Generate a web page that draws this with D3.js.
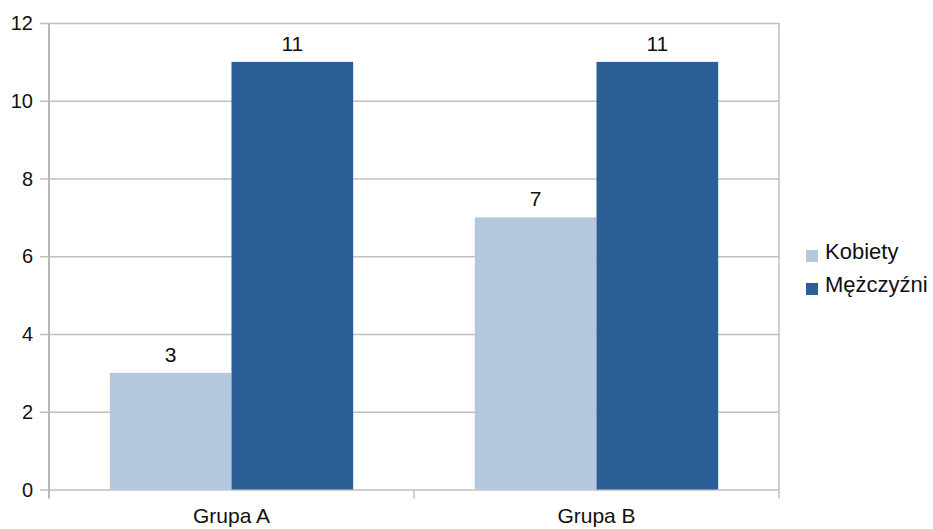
<!DOCTYPE html>
<html>
<head>
<meta charset="utf-8">
<script src="https://cdn.jsdelivr.net/npm/d3@7"></script>
<style>
  html, body { margin: 0; padding: 0; background: #fff; }
  svg { display: block; font-family: "Liberation Sans", Arial, sans-serif; }
</style>
</head>
<body>
<svg id="chart" width="933" height="529"></svg>
<script>
// Chart data
const groups = ["Grupa A", "Grupa B"];
const seriesNames = ["Kobiety", "Mężczyźni"];
const kobiety = [3, 7];
const mezczyzni = [11, 11];
const yTicks = [0, 2, 4, 6, 8, 10, 12];
const seriesColors = ["#b4c7dd", "#2b5f96"];

const seriesValues = [kobiety, mezczyzni];
const rows = groups.map((g, i) => ({
  group: g,
  values: seriesNames.map((s, j) => ({ series: s, idx: j, value: seriesValues[j][i] }))
}));

const svg = d3.select("#chart");
const plot = { left: 49, right: 779, top: 23, bottom: 489.5 };

const y = d3.scaleLinear().domain([0, 12]).range([plot.bottom, plot.top]);
const x0 = d3.scaleBand().domain(groups).range([plot.left, plot.right]).padding(0);
const bw = x0.bandwidth();
const x1 = d3.scaleBand().domain(seriesNames).range([bw / 6, bw * 5 / 6]).padding(0);

const gridColor = "#c0c0c0";
const textColor = "#111";

// Horizontal gridlines with short tick stubs on the left
const grid = svg.append("g")
  .attr("transform", `translate(${plot.left},0)`)
  .call(d3.axisLeft(y).tickValues(yTicks).tickSize(-(plot.right - plot.left)).tickFormat(""));
grid.select(".domain").remove();
grid.selectAll(".tick line").attr("stroke", gridColor).attr("stroke-width", 1.5).attr("x1", -9);

// Bars
const groupG = svg.append("g").selectAll("g")
  .data(rows).join("g")
  .attr("transform", d => `translate(${x0(d.group)},0)`);

groupG.selectAll("rect")
  .data(d => d.values).join("rect")
  .attr("x", d => x1(d.series))
  .attr("y", d => y(d.value))
  .attr("width", x1.bandwidth())
  .attr("height", d => y(0) - y(d.value))
  .attr("fill", d => seriesColors[d.idx]);

// Value labels
groupG.selectAll("text.val")
  .data(d => d.values).join("text")
  .attr("class", "val")
  .attr("x", d => x1(d.series) + x1.bandwidth() / 2)
  .attr("y", d => y(d.value) - 11)
  .attr("text-anchor", "middle")
  .attr("font-size", 21)
  .attr("fill", textColor)
  .text(d => d.value);

// Left axis line
svg.append("line")
  .attr("x1", plot.left).attr("x2", plot.left)
  .attr("y1", plot.top).attr("y2", plot.bottom + 9)
  .attr("stroke", "#b8b8b8").attr("stroke-width", 2);

// Right border line
svg.append("line")
  .attr("x1", plot.right).attr("x2", plot.right)
  .attr("y1", plot.top).attr("y2", plot.bottom + 9)
  .attr("stroke", gridColor).attr("stroke-width", 1.5);

// Category separator ticks below the baseline
const sepX = groups.map(g => x0(g)).concat([plot.right]);
svg.append("g").selectAll("line")
  .data(sepX.slice(1, -1)).join("line")
  .attr("x1", d => d).attr("x2", d => d)
  .attr("y1", plot.bottom).attr("y2", plot.bottom + 9)
  .attr("stroke", gridColor).attr("stroke-width", 1.5);

// Y tick labels
svg.append("g").selectAll("text")
  .data(yTicks).join("text")
  .attr("x", 33)
  .attr("y", d => y(d))
  .attr("dy", "0.35em")
  .attr("text-anchor", "end")
  .attr("font-size", 20)
  .attr("fill", textColor)
  .text(d => d);

// Category labels
svg.append("g").selectAll("text")
  .data(groups).join("text")
  .attr("x", d => x0(d) + bw / 2)
  .attr("y", 523)
  .attr("text-anchor", "middle")
  .attr("font-size", 21)
  .attr("fill", textColor)
  .text(d => d);

// Legend
const legend = svg.append("g").attr("transform", "translate(806,250)");
const li = legend.selectAll("g")
  .data(seriesNames).join("g")
  .attr("transform", (d, i) => `translate(0,${i * 33})`);
li.append("rect")
  .attr("width", 12).attr("height", 12)
  .attr("fill", (d, i) => seriesColors[i]);
li.append("text")
  .attr("x", 19).attr("y", 8.5)
  .attr("font-size", 22)
  .attr("fill", textColor)
  .text(d => d);
</script>
</body>
</html>
